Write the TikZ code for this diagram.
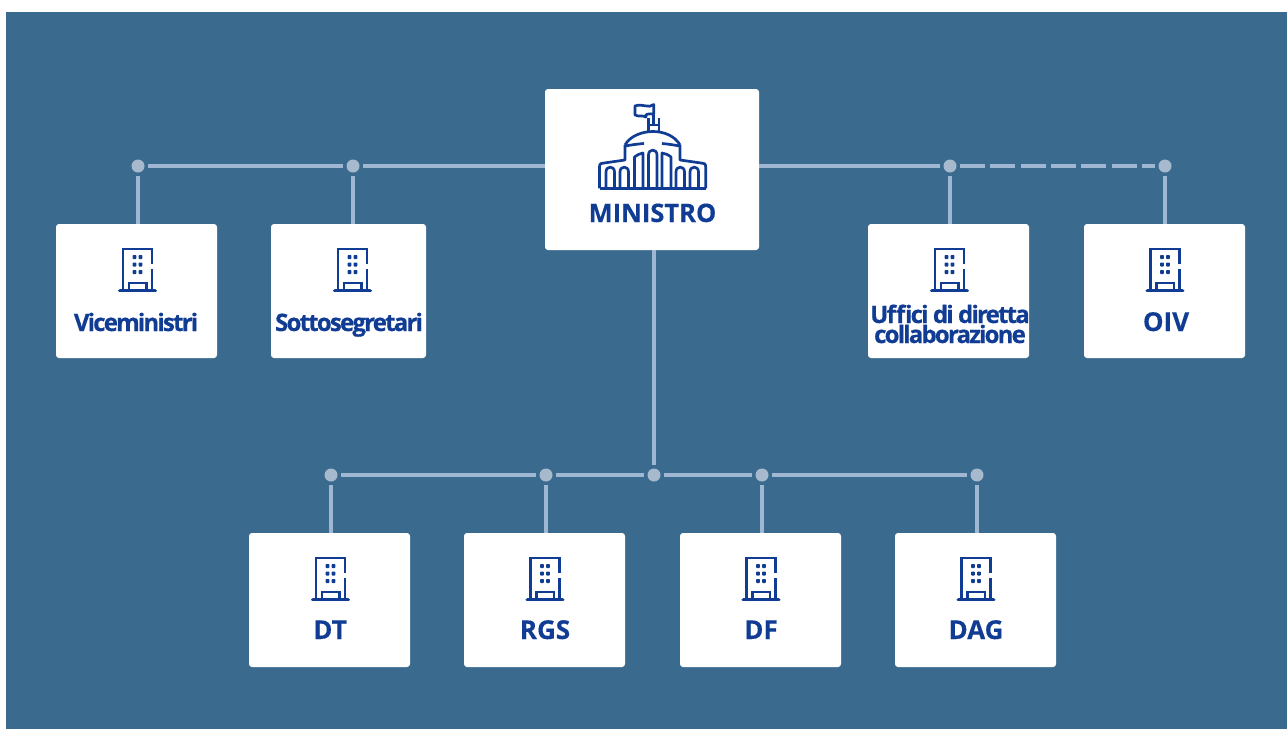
\documentclass[tikz,border=0pt]{standalone}
\usepackage{fontspec}
\setmainfont{Open Sans}
\definecolor{bgblue}{HTML}{3B6A8F}
\definecolor{wire}{HTML}{9FB7D3}
\definecolor{dotc}{HTML}{A7B9CC}
\definecolor{ink}{HTML}{103C94}
\newcommand\capfont{\fontsize{26}{26}\selectfont\bfseries\addfontfeatures{FakeBold=0.3}}
\newcommand\lowfont{\fontsize{24}{20}\selectfont\bfseries\addfontfeatures{LetterSpace=-7.5,FakeBold=0.5}}
\tikzset{
  box/.style={fill=white,rounded corners=3pt,minimum width=#1,minimum height=134pt,inner sep=0pt,draw=none},
  junction/.style={circle,fill=dotc,minimum size=13pt,inner sep=0pt,outer sep=3.5pt,draw=none},
  wireline/.style={draw=wire,line width=3.2pt},
  lbl/.style={text=ink,font=\capfont,anchor=base,inner sep=0pt,align=center},
  bldg/.pic={
    \draw[ink,line width=2.8pt] (-14.5,40.5) -- (-14.5,0) -- (14.5,0) -- (14.5,15);
    \draw[ink,line width=2.8pt] (14.5,20) -- (14.5,40.5);
    \draw[ink,line width=2.6pt] (-8.5,40.5) -- (-8.5,34) -- (9,34) -- (9,40.5);
    \draw[ink,line width=3.8pt,line cap=round] (-17.5,41.5) -- (17.5,41.5);
    \foreach \wy in {8,15.5,23}{
      \fill[ink,rounded corners=0.8pt] (-4.9,\wy-2) rectangle (-1.1,\wy+2);
      \fill[ink,rounded corners=0.8pt] (1.1,\wy-2) rectangle (4.9,\wy+2);
    }
  }
}
\begin{document}
\begin{tikzpicture}[x=1pt,y=-1pt]
\useasboundingbox (0,0) rectangle (1287,729);
\fill[bgblue] (6,12) rectangle (1287,729);

% boxes
\node[box=214pt,minimum height=161pt] (min) at (652,169.5) {};
\node[box=161pt] (vice) at (136.5,291) {};
\node[box=155pt] (sotto) at (348.5,291) {};
\node[box=161pt] (uff) at (948.5,291) {};
\node[box=161pt] (oiv) at (1164.5,291) {};
\node[box=161pt] (dt) at (329.5,600) {};
\node[box=161pt] (rgs) at (544.5,600) {};
\node[box=161pt] (df) at (760.5,600) {};
\node[box=161pt] (dag) at (975.5,600) {};

% junctions
\node[junction] (j1) at (138,166) {};
\node[junction] (j2) at (353,166) {};
\node[junction] (j3) at (950,166) {};
\node[junction] (j4) at (1165,166) {};
\node[junction] (k1) at (331,475) {};
\node[junction] (k2) at (546,475) {};
\node[junction] (hub) at (654,475) {};
\node[junction] (k3) at (762,475) {};
\node[junction] (k4) at (977,475) {};

% connectors
\draw[wireline] (j1) -- (j2);
\draw[wireline] (j2) -- (j2 -| min.west);
\draw[wireline] (j3 -| min.east) -- (j3);
\draw[wireline,dash pattern=on 25pt off 5.3pt] (j3) -- (j4);
\draw[wireline] (j1) -- (j1 |- vice.north);
\draw[wireline] (j2) -- (j2 |- sotto.north);
\draw[wireline] (j3) -- (j3 |- uff.north);
\draw[wireline] (j4) -- (j4 |- oiv.north);
\draw[wireline] (hub |- min.south) -- (hub);
\draw[wireline] (k1) -- (k2);
\draw[wireline] (k2) -- (hub);
\draw[wireline] (hub) -- (k3);
\draw[wireline] (k3) -- (k4);
\draw[wireline] (k1) -- (k1 |- dt.north);
\draw[wireline] (k2) -- (k2 |- rgs.north);
\draw[wireline] (k3) -- (k3 |- df.north);
\draw[wireline] (k4) -- (k4 |- dag.north);

% small icons
\pic at (137.5,249) {bldg};
\pic at (352.5,249) {bldg};
\pic at (949.5,249) {bldg};
\pic at (1165,249) {bldg};
\pic at (330.5,558) {bldg};
\pic at (545,558) {bldg};
\pic at (761,558) {bldg};
\pic at (976,558) {bldg};

% ministry icon
\begin{scope}[ink,line width=2.7pt,line join=round]
  \draw (599.5,188.3) -- (705.7,188.3);
  \draw (599.5,188.3) -- (599.5,167) .. controls (599.5,163.5) and (601,163) .. (604,163) -- (625,160) -- (625,145);
  \draw (705.7,188.3) -- (705.7,167) .. controls (705.7,163.5) and (704,163) .. (701,163) -- (680,160) -- (680,145);
  \draw (625,145) .. controls (630,136) and (642,131.5) .. (653,131.5) .. controls (664,131.5) and (675,136) .. (680,145);
  \draw (625,146) .. controls (631,145) and (637,144) .. (644,143.5);
  \draw (680,146) .. controls (674,145) and (668,144) .. (662,143.5);
  % arches
  \draw (648.5,188) -- (648.5,155) .. controls (648.5,148.5) and (657,148.5) .. (657,155) -- (657,188);
  \draw (634.5,188) -- (634.5,157) .. controls (638,154.5) and (640,153.5) .. (643,153) -- (643,188);
  \draw (671,188) -- (671,157) .. controls (668,154.5) and (665,153.5) .. (662,153) -- (662,188);
  \draw (606,188) -- (606,172) .. controls (606,165.5) and (614.5,165.5) .. (614.5,172) -- (614.5,188);
  \draw (620,188) -- (620,172) .. controls (620,165.5) and (628.5,165.5) .. (628.5,172) -- (628.5,188);
  \draw (676,188) -- (676,172) .. controls (676,165.5) and (684.5,165.5) .. (684.5,172) -- (684.5,188);
  \draw (690,188) -- (690,172) .. controls (690,165.5) and (698.5,165.5) .. (698.5,172) -- (698.5,188);
  % lantern and flag
  \draw (648.5,131.5) -- (648.5,118);
  \draw (659,131.5) -- (659,118);
  \draw (648.5,125) -- (659,125);
  \draw (653.7,125) -- (653.7,114);
  \draw (653.7,104.5) .. controls (649,109) and (642,103) .. (635,106) -- (635,115) .. controls (639,117) and (642,115) .. (646,117) .. controls (644,114) and (649,113.5) .. (653.7,114) -- cycle;
\end{scope}

% labels
\node[lbl,font=\fontsize{25.5}{25.5}\selectfont\bfseries\addfontfeatures{FakeBold=0.3}] (tmin) at (652.5,222) {MINISTRO};
\node[lbl,font=\lowfont] (tvice) at (136,331) {Viceministri};
\node[lbl,font=\lowfont] (tsotto) at (349,331) {Sottosegretari};
\node[lbl,font=\lowfont] (tuff) at (950,343) {Uffici di diretta\\collaborazione};
\node[lbl] (toiv) at (1166,331) {OIV};
\node[lbl] (tdt) at (330,639) {DT};
\node[lbl] (trgs) at (545,639) {RGS};
\node[lbl] (tdf) at (761,639) {DF};
\node[lbl] (tdag) at (976,639) {DAG};
\end{tikzpicture}
\end{document}
